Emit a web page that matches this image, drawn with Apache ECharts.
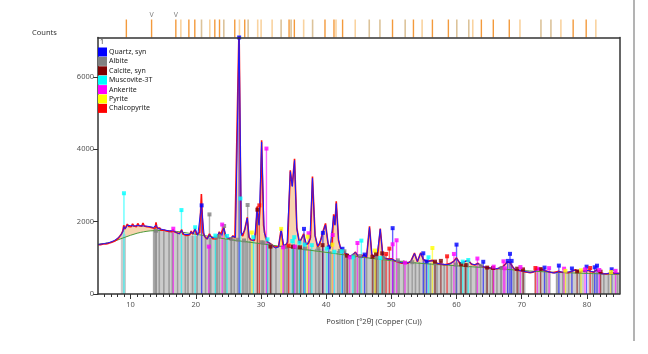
<!DOCTYPE html>
<html>
<head>
<meta charset="utf-8">
<script src="https://cdn.jsdelivr.net/npm/echarts@6/dist/echarts.min.js"></script>
<style>
  html, body { margin: 0; padding: 0; background: #fff; }
  #xrd { width: 648px; height: 354px; }
</style>
</head>
<body>
<div id="xrd"></div>
<script>
// axis ticks
const xMajor = [10, 20, 30, 40, 50, 60, 70, 80]
const yMajor = [0, 2000, 4000, 6000]

// observed pattern (red), [2theta, counts]
const observed = [
  [5.0,1360],[5.2,1390],[5.4,1365],[5.6,1395],[5.8,1380],[6.0,1405],[6.2,1385],[6.4,1420],[6.6,1400],[6.8,1440],
  [7.0,1425],[7.2,1460],[7.4,1450],[7.6,1500],[7.8,1490],[8.0,1545],[8.2,1560],[8.4,1610],[8.6,1660],[8.8,1740],
  [8.95,1900],[9.1,1790],[9.3,1860],[9.5,1930],[9.7,1870],[9.9,1920],[10.1,1860],[10.3,1940],[10.5,1880],[10.7,1920],
  [10.9,1860],[11.1,1950],[11.3,1890],[11.5,1930],[11.7,1870],[11.9,1960],[12.1,1880],[12.3,1920],[12.5,1860],[12.7,1910],
  [12.9,1850],[13.1,1900],[13.3,1830],[13.5,1870],[13.75,1810],[13.9,1980],[14.05,1820],[14.3,1790],[14.5,1820],[14.7,1760],
  [14.9,1800],[15.1,1770],[15.3,1790],[15.5,1740],[15.7,1770],[15.9,1730],[16.1,1760],[16.3,1720],[16.5,1780],[16.7,1720],
  [16.9,1700],[17.1,1690],[17.3,1650],[17.5,1670],[17.7,1640],[17.85,1780],[18.0,1660],[18.3,1640],[18.6,1620],[18.9,1650],
  [19.1,1640],[19.3,1740],[19.5,1650],[19.7,1630],[19.9,1810],[20.1,1650],[20.4,1620],[20.6,1700],[20.86,2760],[21.1,1700],
  [21.4,1580],[21.7,1520],[21.9,1560],[22.1,1660],[22.3,1600],[22.6,1530],[22.9,1560],[23.1,1520],[23.4,1580],[23.6,1720],
  [23.8,1640],[24.0,1600],[24.3,1850],[24.5,1650],[24.8,1560],[25.1,1540],[25.4,1520],[25.7,1610],[26.0,1550],[26.3,1600],
  [26.64,7400],[26.95,1700],[27.2,1600],[27.5,1780],[27.9,2120],[28.15,1580],[28.4,1500],[28.7,1460],[29.0,1480],[29.2,1700],
  [29.4,2420],[29.7,1950],[29.9,2500],[30.1,4250],[30.4,1900],[30.7,1560],[31.0,1440],[31.3,1400],[31.6,1370],[32.0,1300],
  [32.3,1260],[32.7,1310],[33.1,1800],[33.4,1340],[33.8,1360],[34.1,1430],[34.5,3420],[34.8,2990],[35.15,3740],[35.5,1830],
  [35.9,1410],[36.2,1430],[36.55,1660],[36.9,1370],[37.3,1400],[37.6,1560],[37.9,3250],[38.3,1620],[38.7,1300],[39.0,1380],
  [39.2,1520],[39.5,1720],[39.9,1950],[40.3,1380],[40.6,1270],[40.9,1400],[41.15,2200],[41.35,1920],[41.55,2560],[41.9,1480],
  [42.2,1270],[42.5,1240],[42.9,1120],[43.3,1090],[43.7,1040],[44.1,1080],[44.5,1160],[44.8,1060],[45.2,1010],[45.5,990],
  [45.8,1090],[46.2,1010],[46.65,1870],[47.0,1090],[47.3,1030],[47.6,1070],[47.9,1050],[48.3,1810],[48.7,1040],[49.05,980],
  [49.5,970],[49.8,940],[50.1,970],[50.6,910],[51.1,880],[51.6,850],[52.1,870],[52.5,850],[53.0,910],[53.55,1130],
  [54.0,890],[54.5,1140],[54.9,960],[55.3,900],[55.7,910],[56.3,930],[56.7,860],[57.2,840],[57.6,830],[58.1,810],
  [58.5,820],[59.0,840],[59.6,910],[60.0,1000],[60.5,850],[61.0,880],[61.3,910],[61.8,930],[62.3,820],[62.8,800],
  [63.3,850],[63.7,780],[64.0,770],[64.4,730],[64.8,740],[65.2,710],[65.6,700],[65.9,680],[66.3,700],[66.6,720],
  [67.2,770],[67.8,890],[68.2,870],[68.6,750],[69.0,660],[69.5,650],[70.0,640],[70.5,610],[70.9,600],[71.3,590],
  [71.7,600],[72.0,625],[72.6,700],[73.05,690],[73.6,645],[74.0,620],[74.4,600],[74.8,585],[75.1,570],[75.7,625],
  [76.1,600],[76.6,600],[77.1,590],[77.6,625],[78.2,670],[78.6,630],[79.0,615],[79.5,640],[80.2,655],[80.6,620],
  [81.0,605],[81.5,665],[81.9,600],[82.2,550],[82.6,560],[83.0,555],[83.4,570],[83.8,595],[84.3,570],[84.7,575],[85.0,565]
]

// calculated profile (blue)
const calculated = [
  [5.0,1370],[5.5,1380],[6.0,1395],[6.5,1410],[7.0,1440],[7.5,1480],[8.0,1540],[8.5,1630],[8.8,1720],[9.0,1860],
  [9.2,1800],[9.5,1900],[10.0,1890],[10.5,1880],[11.0,1890],[11.5,1885],[12.0,1880],[12.5,1875],[13.0,1860],[13.5,1840],
  [13.9,1900],[14.2,1810],[15.0,1780],[16.0,1740],[16.5,1760],[17.0,1700],[17.5,1660],[17.8,1760],[18.2,1650],[19.0,1640],
  [19.3,1720],[19.6,1660],[19.9,1800],[20.3,1620],[20.86,2450],[21.3,1600],[21.8,1520],[22.1,1640],[22.4,1560],[23.0,1560],
  [23.6,1700],[24.0,1620],[24.3,1820],[24.7,1560],[25.3,1540],[25.7,1600],[26.1,1560],[26.64,7300],[27.0,1620],[27.5,1760],
  [27.9,2100],[28.2,1560],[28.6,1480],[29.0,1500],[29.4,2300],[29.7,1900],[30.1,4200],[30.5,1700],[31.0,1450],[31.5,1380],
  [32.2,1270],[32.7,1300],[33.1,1770],[33.5,1330],[34.0,1400],[34.5,3380],[34.8,2970],[35.15,3690],[35.5,1800],[35.9,1420],
  [36.55,1640],[37.0,1360],[37.5,1500],[37.9,3200],[38.3,1600],[38.7,1320],[39.2,1500],[39.5,1700],[39.9,1910],[40.3,1400],
  [40.6,1280],[41.15,2160],[41.35,1900],[41.55,2500],[41.9,1500],[42.2,1280],[42.5,1230],[42.9,1140],[43.7,1050],[44.5,1150],
  [45.0,1030],[45.5,1000],[45.8,1080],[46.2,1020],[46.65,1840],[47.0,1100],[47.3,1040],[47.8,1060],[48.3,1790],[48.7,1060],
  [49.05,990],[49.5,960],[50.1,960],[50.6,920],[51.6,860],[52.5,860],[53.0,900],[53.55,1120],[54.0,900],[54.5,1130],
  [54.9,950],[55.7,900],[56.3,920],[56.7,860],[57.6,830],[58.5,810],[59.0,830],[59.6,900],[60.0,990],[60.5,860],
  [61.3,900],[61.8,920],[62.3,830],[62.8,810],[63.3,840],[64.0,760],[64.4,740],[65.2,720],[65.9,690],[66.6,720],
  [67.2,760],[67.8,880],[68.2,860],[68.6,760],[69.0,670],[70.0,640],[70.5,620],[71.3,595],[72.0,620],[72.6,690],
  [73.05,680],[73.6,640],[74.4,600],[75.1,575],[75.7,620],[76.6,595],[77.6,620],[78.2,660],[79.0,620],[80.2,650],
  [81.0,610],[81.5,660],[82.2,555],[83.0,560],[83.8,590],[84.3,575],[85.0,570]
]

// background (green)
const background = [
  [5,1375],[7,1430],[9,1560],[11,1680],[13,1745],[15,1755],[17,1730],[20,1650],[25,1510],[30,1390],
  [35,1270],[40,1150],[45,1030],[50,920],[55,840],[60,780],[65,720],[70,650],[75,600],[80,570],[85,540]
]

// grey reference sticks drawn as bands: [from, to, top]
const greyBands = [
  [8.5,9.3,1650],[13.4,15.0,1790],[15.0,17.0,1745],[17.0,19.0,1660],[19.0,21.5,1620],[21.5,24.0,1550],
  [24.0,26.5,1520],[26.5,29.0,1470],[29.0,31.5,1420],[31.5,34.0,1320],[34.0,37.0,1290],[37.0,40.0,1250],
  [40.0,43.0,1190],[43.0,46.0,1050],[46.0,49.0,1010],[49.0,52.0,930],[52.0,55.0,880],[55.0,58.0,850],
  [58.0,61.0,810],[61.0,64.0,780],[64.0,67.0,720],[67.0,70.6,680],[71.9,74.5,640],[75.2,79.6,600],[80.2,85.0,575]
]
// darker grey sticks inside the bands: [2theta, top]
const greyDark = [
  [13.6,1790],[13.9,1790],[14.4,1790],[15.1,1745],[15.9,1745],[16.4,1745],[17.2,1660],[18.4,1660],[18.8,1660],
  [19.5,1620],[20.2,1620],[21.5,1550],[22.3,1550],[23.3,1550],[24.6,1520],[25.4,1520],[25.9,1520],[27.2,1470],
  [27.7,1470],[28.3,1470],[30.3,1420],[31.0,1420],[31.6,1320],[32.3,1320],[33.6,1320],[34.1,1290],[35.5,1290],
  [36.2,1290],[37.6,1250],[38.4,1250],[39.0,1250],[40.7,1190],[41.8,1190],[42.9,1190],[43.3,1050],[44.5,1050],
  [45.1,1050],[46.2,1010],[47.3,1010],[48.0,1010],[49.0,930],[50.4,930],[51.2,930],[51.9,930],[52.6,880],[53.7,880],
  [54.3,880],[55.1,850],[56.0,850],[57.0,850],[58.1,810],[59.2,810],[60.6,810],[61.3,780],[62.2,780],[63.0,780],
  [64.6,720],[65.2,720],[66.2,720],[66.8,720],[68.8,680],[69.5,680],[70.3,680],[73.8,640],[75.4,600],[76.3,600],
  [77.2,600],[78.9,600],[80.9,575],[82.6,575],[83.3,575],[84.7,575]
]

// phase sticks: [2theta, counts]
const quartz = [
  [20.9,2450],[26.65,7090],[36.6,1800],[39.5,1690],[40.4,1290],[42.5,1250],[45.9,1090],[50.2,1820],[54.9,1125],
  [55.4,900],[60.0,1365],[64.1,890],[67.85,915],[68.2,1110],[68.45,915],[73.5,730],[75.7,785],[77.7,705],
  [79.95,756],[81.2,738],[81.55,783],[83.8,683]
]
const albite = [
  [13.9,1750],[22.1,2200],[23.1,1560],[23.6,1600],[24.35,1880],[25.5,1520],[26.4,1500],[27.4,1480],[27.95,2460],
  [30.1,1430],[30.4,1420],[31.5,1330],[33.9,1300],[35.0,1300],[35.6,1290],[36.8,1260],[38.8,1250],[42.1,1190],
  [42.8,1180],[44.3,1060],[45.2,1050],[47.8,1010],[48.8,1000],[51.0,930],[53.2,880],[56.7,850],[59.9,815],
  [61.6,790],[63.7,780],[66.9,720]
]
const calcite = [
  [29.45,2330],[31.45,1310],[34.9,1310],[36.0,1290],[39.45,1350],[43.2,1060],[47.1,1030],[47.65,1110],[48.6,1125],
  [56.7,895],[57.6,915],[60.7,820],[61.4,800],[64.7,730],[65.6,720],[69.3,700],[70.2,680],[72.9,690],[78.5,625],[82.1,617]
]
const muscovite = [
  [8.98,2785],[17.8,2320],[19.9,1845],[23.0,1615],[24.8,1605],[26.85,2640],[28.85,1570],[31.0,1510],[34.8,1465],
  [35.1,1570],[35.9,1420],[36.7,1365],[37.8,1350],[40.1,1255],[41.25,1170],[42.4,1180],[44.1,1015],[45.4,1475],
  [48.3,995],[55.7,1015],[60.95,895],[61.8,940]
]
const ankerite = [
  [16.55,1805],[22.0,1310],[24.05,1920],[30.84,4020],[33.4,1290],[35.2,1310],[37.3,1680],[41.0,1630],[43.6,1015],
  [44.8,1410],[50.2,1375],[50.8,1485],[52.1,865],[59.6,1107],[63.2,980],[65.7,756],[67.2,903],[67.4,710],[69.8,745],
  [72.4,700],[74.2,715],[76.5,700],[79.7,680],[81.9,664],[84.4,640]
]
const pyrite = [[28.6,1700],[33.1,1800],[37.15,1585],[40.95,1365],[47.5,1200],[56.3,1272],[76.7,640],[79.1,655],[83.7,609]]
const chalcopyrite = [[29.75,2450],[34.25,1337],[49.2,1107],[49.7,1254],[58.55,1042],[72.1,719],[80.5,719]]

// peak list strip above the plot
const stripOrange = [9.35,13.22,16.94,18.94,19.85,22.92,23.64,25.98,27.51,34.31,35.12,39.82,41.20,42.52,50.18,53.39,56.30,58.75,63.81,65.64,68.09,77.89,79.89]
const stripTan = [20.88,24.30,28.03,33.09,34.62,37.92,46.61,48.25,52.12,60.04,61.88,72.95,74.48]
const stripLight = [17.71,22.15,26.70,29.50,30.02,31.71,36.55,41.51,44.46,54.72,62.49,69.73,76.01,81.37]
const stripMarked = [13.22, 16.94]

const phases = [
  { name: 'Quartz, syn', color: '#0000ff', sticks: quartz },
  { name: 'Albite', color: '#808080', sticks: albite },
  { name: 'Calcite, syn', color: '#800000', sticks: calcite },
  { name: 'Muscovite-3T', color: '#00ffff', sticks: muscovite },
  { name: 'Ankerite', color: '#ff00ff', sticks: ankerite },
  { name: 'Pyrite', color: '#ffff00', sticks: pyrite },
  { name: 'Chalcopyrite', color: '#ff0000', sticks: chalcopyrite },
]

const FONT = 'Noto Sans'
const xMinor = []
for (let v = 6; v < 85; v++) if (v % 10 !== 0) xMinor.push(v)

function stickSeries(data, color, width, opacity, z, xi, yi) {
  return {
    type: 'custom', silent: true, z: z, xAxisIndex: xi || 0, yAxisIndex: yi || 0,
    data: data.map(d => (Array.isArray(d) ? d : [d, 1])),
    renderItem(params, api) {
      const x = api.value(0)
      const a = api.coord([x, 0])
      const b = api.coord([x, api.value(1)])
      return {
        type: 'line', shape: { x1: a[0], y1: a[1], x2: b[0], y2: b[1] },
        style: { stroke: color, lineWidth: width, opacity: opacity },
      }
    },
  }
}

const series = []
// orange fill under calculated profile
series.push({ type: 'line', data: calculated, symbol: 'none', silent: true, z: 1,
  lineStyle: { width: 0 }, areaStyle: { color: 'rgba(240,170,95,0.5)', opacity: 1 } })
// white under background
series.push({ type: 'line', data: background, symbol: 'none', smooth: 0.3, silent: true, z: 2,
  lineStyle: { width: 0 }, areaStyle: { color: '#ffffff', opacity: 1 } })
// grey bands
series.push({
  type: 'custom', silent: true, z: 3, data: greyBands,
  renderItem(params, api) {
    const p0 = api.coord([api.value(0), api.value(2)])
    const p1 = api.coord([api.value(1), 0])
    return { type: 'rect', shape: { x: p0[0], y: p0[1], width: p1[0] - p0[0], height: p1[1] - p0[1] },
      style: { fill: '#cbcbcb' } }
  },
})
series.push(stickSeries(greyDark, '#9c9c9c', 1.6, 1, 3))
phases.forEach(p => series.push(stickSeries(p.sticks, p.color, 1.4, 0.6, 4)))
// profiles
series.push({ type: 'line', data: background, symbol: 'none', smooth: 0.3, silent: true, z: 5,
  lineStyle: { color: '#4e9a3a', width: 1 } })
series.push({ type: 'line', data: observed, symbol: 'none', silent: true, z: 6,
  lineStyle: { color: '#ff1010', width: 1.6 } })
series.push({ type: 'line', data: calculated, symbol: 'none', silent: true, z: 7,
  lineStyle: { color: '#1a1aff', width: 1 } })
// markers on stick tops
phases.forEach(p => series.push({
  type: 'scatter', name: p.name, data: p.sticks, symbol: 'rect', symbolSize: 4, clip: false, z: 8,
  itemStyle: { color: p.color }, silent: true,
}))
// strip above the plot
series.push(stickSeries(stripTan, '#dcc39a', 1.6, 1, 3, 3, 2))
series.push(stickSeries(stripLight, '#f9d3a0', 1.6, 1, 3, 3, 2))
series.push(stickSeries(stripOrange, '#f39a3c', 1.4, 1, 3, 3, 2))
series.push({
  type: 'custom', silent: true, z: 4, xAxisIndex: 3, yAxisIndex: 2, data: stripMarked.map(v => [v, 1]),
  renderItem(params, api) {
    const p = api.coord([api.value(0), 1])
    return { type: 'text', x: p[0], y: p[1] - 1,
      style: { text: 'V', fill: '#808080', font: '7px ' + FONT, align: 'center', verticalAlign: 'bottom' } }
  },
})

const axisLine = { show: true, lineStyle: { color: '#333', width: 1.5 } }
const label = { color: '#555', fontSize: 7.5, fontFamily: FONT }

const graphics = [
  { type: 'text', left: 32, top: 29, style: { text: 'Counts', font: '7.5px ' + FONT, fill: '#333' } },
  { type: 'text', left: 100, top: 38, style: { text: '1', font: '7px ' + FONT, fill: '#333' } },
  { type: 'text', x: 374, y: 322, style: { text: 'Position [°2θ] (Copper (Cu))', font: '7.5px ' + FONT, fill: '#444',
    align: 'center', verticalAlign: 'middle' } },
  { type: 'line', shape: { x1: 634, y1: 0, x2: 634, y2: 341 }, style: { stroke: '#9a9a9a', lineWidth: 1.5 } },
]
phases.forEach((p, i) => {
  graphics.push({ type: 'rect', shape: { x: 98, y: 47.5 + i * 9.4, width: 9, height: 9 }, style: { fill: p.color }, z: 20 })
  graphics.push({ type: 'text', x: 109, y: 52 + i * 9.4, z: 20,
    style: { text: p.name, font: '7px ' + FONT, fill: '#222', verticalAlign: 'middle' } })
})

const chart = echarts.init(document.getElementById('xrd'))
chart.setOption({
  animation: false,
  backgroundColor: '#fff',
  grid: [
    { left: 98, right: 28.5, top: 37.5, bottom: 60 },
    { left: 98, right: 28.5, top: 19.5, height: 18 },
  ],
  xAxis: [
    { gridIndex: 0, type: 'value', min: 5, max: 85, position: 'bottom', z: 10, axisLine,
      axisTick: { show: true, customValues: xMajor, length: 5, lineStyle: { color: '#333' } },
      axisLabel: Object.assign({ customValues: xMajor, margin: 7, formatter: v => String(v) }, label),
      splitLine: { show: false } },
    { gridIndex: 0, type: 'value', min: 5, max: 85, position: 'bottom', z: 10, axisLine: { show: false },
      axisTick: { show: true, customValues: xMinor, length: 3, lineStyle: { color: '#333' } },
      axisLabel: { show: false }, splitLine: { show: false } },
    { gridIndex: 0, type: 'value', min: 5, max: 85, position: 'top', z: 10, axisLine,
      axisTick: { show: false }, axisLabel: { show: false }, splitLine: { show: false } },
    { gridIndex: 1, type: 'value', min: 5, max: 85, show: false },
  ],
  yAxis: [
    { gridIndex: 0, type: 'value', min: 0, max: 7090, position: 'left', z: 10, axisLine,
      axisTick: { show: true, customValues: yMajor, length: 5, lineStyle: { color: '#333' } },
      axisLabel: Object.assign({ customValues: yMajor, margin: 4, formatter: v => String(v) }, label),
      splitLine: { show: false } },
    { gridIndex: 0, type: 'value', min: 0, max: 7090, position: 'right', z: 10, axisLine,
      axisTick: { show: false }, axisLabel: { show: false }, splitLine: { show: false } },
    { gridIndex: 1, type: 'value', min: 0, max: 1, show: false },
  ],
  graphic: graphics,
  series,
})
</script>
</body>
</html>
